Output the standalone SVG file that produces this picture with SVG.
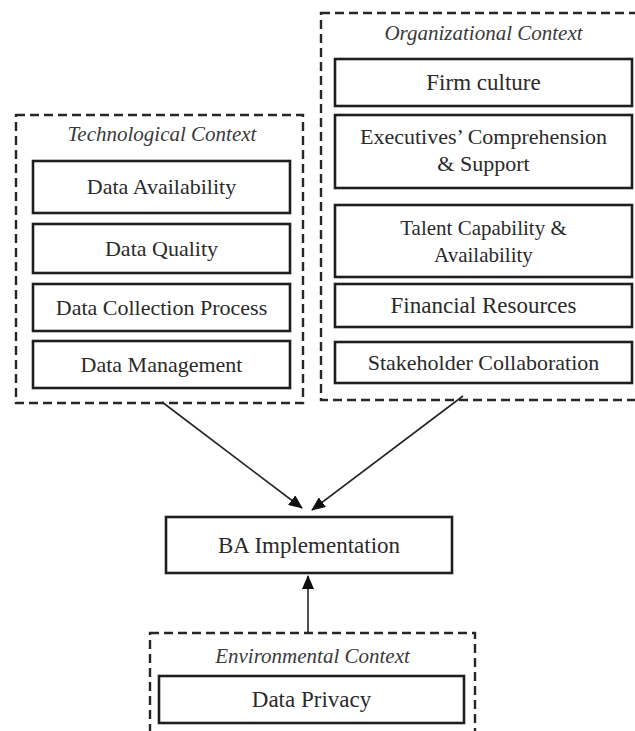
<svg xmlns="http://www.w3.org/2000/svg" width="635" height="731" viewBox="0 0 635 731">
  <style>
    .ctx { fill: none; stroke: #262626; stroke-width: 2.4; stroke-dasharray: 9 5; }
    .box { fill: #ffffff; stroke: #1e1e1e; stroke-width: 2.6; }
    .lbl { font-family: "Liberation Serif", "Times New Roman", serif; font-size: 22px; fill: #2a2a2a; text-anchor: middle; }
    .ttl { font-family: "Liberation Serif", "Times New Roman", serif; font-size: 21px; font-style: italic; fill: #3a3a3a; text-anchor: middle; }
    .big { font-size: 23px; }
    .sm { font-size: 21px; }
    .edge { stroke: #262626; stroke-width: 1.6; fill: none; marker-end: url(#head); }
  </style>
  <defs>
    <marker id="head" markerUnits="userSpaceOnUse" markerWidth="14" markerHeight="12" refX="13" refY="6" orient="auto">
      <path d="M0,0 L14,6 L0,12 z" fill="#111111"/>
    </marker>
  </defs>
  <rect width="635" height="731" fill="#ffffff"/>

  <!-- Technological context -->
  <g id="technological-context">
    <rect class="ctx" x="16" y="115" width="287" height="288"/>
    <text class="ttl" x="162" y="141">Technological Context</text>
    <g id="data-availability">
      <rect class="box" x="33" y="161" width="257" height="52"/>
      <text class="lbl" x="161.5" y="194">Data Availability</text>
    </g>
    <g id="data-quality">
      <rect class="box" x="33" y="224" width="257" height="49"/>
      <text class="lbl" x="161.5" y="256">Data Quality</text>
    </g>
    <g id="data-collection-process">
      <rect class="box" x="33" y="284" width="257" height="47"/>
      <text class="lbl" x="161.5" y="315">Data Collection Process</text>
    </g>
    <g id="data-management">
      <rect class="box" x="33" y="341" width="257" height="47"/>
      <text class="lbl" x="161.5" y="372">Data Management</text>
    </g>
  </g>

  <!-- Organizational context -->
  <g id="organizational-context">
    <rect class="ctx" x="321" y="13" width="328" height="387"/>
    <text class="ttl" x="483.5" y="40">Organizational Context</text>
    <g id="firm-culture">
      <rect class="box" x="335" y="59" width="297" height="47"/>
      <text class="lbl big" x="483.5" y="90">Firm culture</text>
    </g>
    <g id="executives-support">
      <rect class="box" x="335" y="115" width="297" height="73"/>
      <text class="lbl" x="483.5" y="144">Executives’ Comprehension</text>
      <text class="lbl" x="483.5" y="171">&amp; Support</text>
    </g>
    <g id="talent-capability">
      <rect class="box" x="335" y="205" width="297" height="72"/>
      <text class="lbl sm" x="483.5" y="235">Talent Capability &amp;</text>
      <text class="lbl sm" x="483.5" y="262">Availability</text>
    </g>
    <g id="financial-resources">
      <rect class="box" x="335" y="284" width="297" height="43"/>
      <text class="lbl big" x="483.5" y="313">Financial Resources</text>
    </g>
    <g id="stakeholder-collaboration">
      <rect class="box" x="335" y="342" width="297" height="41"/>
      <text class="lbl" x="483.5" y="370">Stakeholder Collaboration</text>
    </g>
  </g>

  <!-- BA implementation -->
  <g id="ba-implementation">
    <rect class="box" x="166" y="517" width="286" height="56"/>
    <text class="lbl big" x="309" y="553">BA Implementation</text>
  </g>

  <!-- Environmental context -->
  <g id="environmental-context">
    <rect class="ctx" x="150" y="633" width="325" height="110"/>
    <text class="ttl" x="312.5" y="663">Environmental Context</text>
    <g id="data-privacy">
      <rect class="box" x="159" y="676" width="305" height="47"/>
      <text class="lbl big" x="311.5" y="707">Data Privacy</text>
    </g>
  </g>

  <!-- Connectors -->
  <g id="connectors">
    <line class="edge" x1="162" y1="402" x2="302" y2="508"/>
    <line class="edge" x1="463" y1="396" x2="312" y2="510"/>
    <line class="edge" x1="308" y1="632" x2="308" y2="576"/>
  </g>
</svg>
